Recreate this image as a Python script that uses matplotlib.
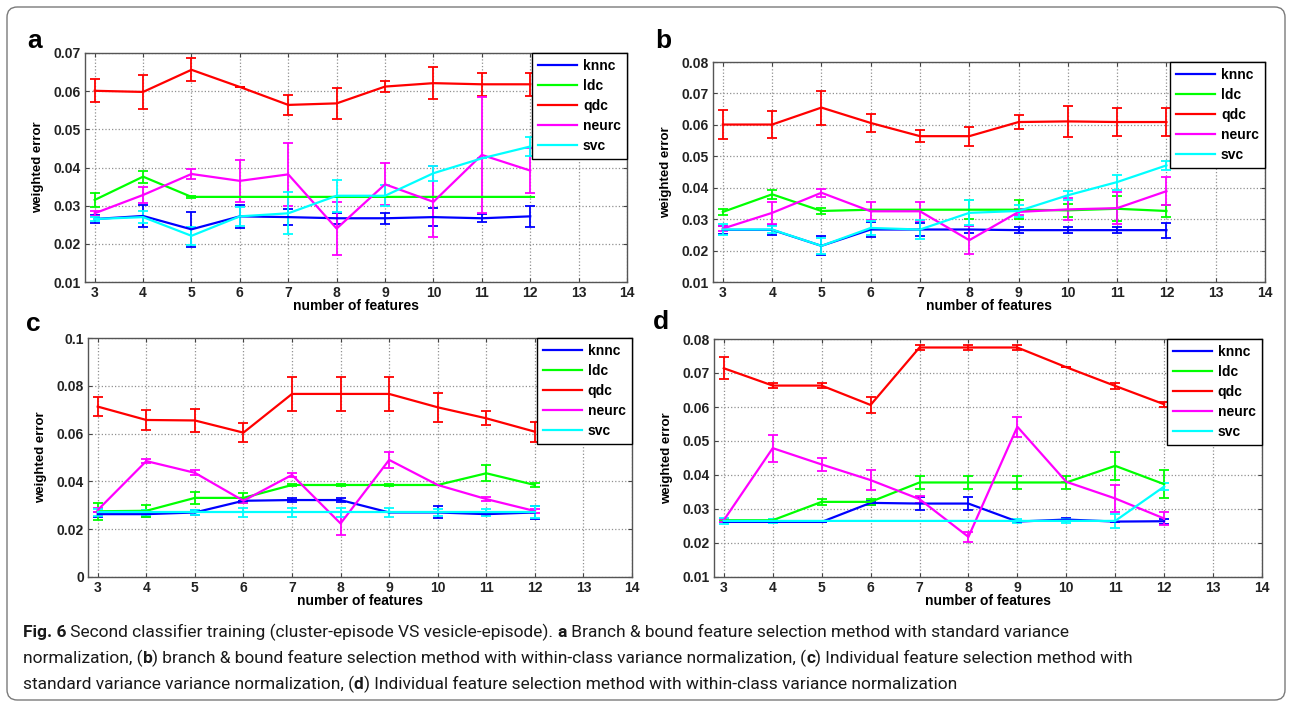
import matplotlib
matplotlib.use("Agg")
import matplotlib.pyplot as plt
from matplotlib.patches import FancyBboxPatch
from matplotlib.lines import Line2D
from matplotlib import font_manager

# data
features = [3, 4, 5, 6, 7, 8, 9, 10, 11, 12]
names = ['knnc', 'ldc', 'qdc', 'neurc', 'svc']
colors = ['#0000ff', '#00ff00', '#ff0000', '#ff00ff', '#00ffff']

# panel a
knnc_a = [0.0265, 0.0273, 0.0238, 0.0272, 0.0270, 0.0267, 0.0267, 0.0270, 0.0267, 0.0272]
knnc_a_err = [0.0010, 0.0030, 0.0046, 0.0030, 0.0020, 0.0015, 0.0014, 0.0023, 0.0010, 0.0028]
ldc_a = [0.0315, 0.0376, 0.0323, 0.0323, 0.0323, 0.0323, 0.0323, 0.0323, 0.0323, 0.0323]
ldc_a_err = [0.0018, 0.0016, 0.0003, 0.0, 0.0, 0.0, 0.0, 0.0, 0.0, 0.0]
qdc_a = [0.0601, 0.0598, 0.0656, 0.0611, 0.0564, 0.0568, 0.0612, 0.0621, 0.0618, 0.0618]
qdc_a_err = [0.0030, 0.0044, 0.0030, 0.0, 0.0026, 0.0040, 0.0014, 0.0042, 0.0030, 0.0030]
neurc_a = [0.0280, 0.0328, 0.0383, 0.0365, 0.0382, 0.0240, 0.0356, 0.0310, 0.0433, 0.0392]
neurc_a_err = [0.0007, 0.0022, 0.0013, 0.0055, 0.0083, 0.0069, 0.0055, 0.0093, 0.0153, 0.0060]
svc_a = [0.0265, 0.0270, 0.0221, 0.0272, 0.0280, 0.0326, 0.0326, 0.0385, 0.0424, 0.0455]
svc_a_err = [0.0005, 0.0015, 0.0023, 0.0025, 0.0055, 0.0042, 0.0028, 0.0020, 0.0, 0.0025]

# panel b
knnc_b = [0.0266, 0.0266, 0.0215, 0.0267, 0.0267, 0.0267, 0.0265, 0.0265, 0.0265, 0.0265]
knnc_b_err = [0.0012, 0.0015, 0.0030, 0.0024, 0.0020, 0.0010, 0.0010, 0.0010, 0.0010, 0.0024]
ldc_b = [0.0323, 0.0379, 0.0326, 0.0330, 0.0330, 0.0330, 0.0330, 0.0328, 0.0333, 0.0326]
ldc_b_err = [0.0010, 0.0014, 0.0010, 0.0, 0.0, 0.0030, 0.0030, 0.0020, 0.0040, 0.0020]
qdc_b = [0.0601, 0.0601, 0.0655, 0.0606, 0.0564, 0.0564, 0.0609, 0.0611, 0.0609, 0.0609]
qdc_b_err = [0.0045, 0.0043, 0.0054, 0.0030, 0.0020, 0.0030, 0.0022, 0.0050, 0.0045, 0.0045]
neurc_b = [0.0270, 0.0320, 0.0384, 0.0325, 0.0325, 0.0233, 0.0323, 0.0331, 0.0335, 0.0389]
neurc_b_err = [0.0008, 0.0035, 0.0013, 0.0028, 0.0030, 0.0045, 0.0010, 0.0035, 0.0050, 0.0045]
svc_b = [0.0267, 0.0267, 0.0215, 0.0272, 0.0267, 0.0320, 0.0326, 0.0376, 0.0418, 0.0471]
svc_b_err = [0.0018, 0.0010, 0.0025, 0.0023, 0.0030, 0.0040, 0.0020, 0.0015, 0.0024, 0.0014]

# panel c
knnc_c = [0.0263, 0.0263, 0.0270, 0.0319, 0.0322, 0.0322, 0.0270, 0.0270, 0.0263, 0.0270]
knnc_c_err = [0.0010, 0.0010, 0.0010, 0.0, 0.0010, 0.0010, 0.0, 0.0025, 0.0, 0.0026]
ldc_c = [0.0275, 0.0277, 0.0331, 0.0331, 0.0385, 0.0385, 0.0385, 0.0385, 0.0434, 0.0385]
ldc_c_err = [0.0035, 0.0025, 0.0024, 0.0020, 0.0005, 0.0005, 0.0005, 0.0, 0.0034, 0.0008]
qdc_c = [0.0713, 0.0657, 0.0655, 0.0604, 0.0766, 0.0766, 0.0766, 0.0710, 0.0664, 0.0608]
qdc_c_err = [0.0040, 0.0043, 0.0050, 0.0040, 0.0070, 0.0070, 0.0070, 0.0060, 0.0030, 0.0042]
neurc_c = [0.0280, 0.0485, 0.0436, 0.0319, 0.0427, 0.0224, 0.0490, 0.0385, 0.0326, 0.0276]
neurc_c_err = [0.0010, 0.0010, 0.0010, 0.0010, 0.0010, 0.0047, 0.0033, 0.0, 0.0010, 0.0010]
svc_c = [0.0270, 0.0270, 0.0270, 0.0270, 0.0270, 0.0270, 0.0270, 0.0270, 0.0270, 0.0270]
svc_c_err = [0.0015, 0.0010, 0.0010, 0.0020, 0.0020, 0.0020, 0.0020, 0.0015, 0.0015, 0.0025]

# panel d
knnc_d = [0.0262, 0.0262, 0.0262, 0.0318, 0.0316, 0.0316, 0.0263, 0.0269, 0.0263, 0.0264]
knnc_d_err = [0.0, 0.0, 0.0, 0.0007, 0.0020, 0.0020, 0.0, 0.0005, 0.0, 0.0008]
ldc_d = [0.0267, 0.0267, 0.0321, 0.0321, 0.0378, 0.0378, 0.0378, 0.0378, 0.0427, 0.0373]
ldc_d_err = [0.0003, 0.0005, 0.0008, 0.0008, 0.0020, 0.0020, 0.0020, 0.0018, 0.0042, 0.0041]
qdc_d = [0.0714, 0.0663, 0.0663, 0.0606, 0.0775, 0.0775, 0.0775, 0.0717, 0.0662, 0.0608]
qdc_d_err = [0.0033, 0.0008, 0.0008, 0.0023, 0.0008, 0.0008, 0.0008, 0.0, 0.0008, 0.0008]
neurc_d = [0.0267, 0.0479, 0.0431, 0.0385, 0.0329, 0.0218, 0.0542, 0.0380, 0.0331, 0.0272]
neurc_d_err = [0.0005, 0.0040, 0.0020, 0.0030, 0.0010, 0.0015, 0.0030, 0.0, 0.0040, 0.0020]
svc_d = [0.0265, 0.0265, 0.0265, 0.0265, 0.0265, 0.0265, 0.0265, 0.0265, 0.0265, 0.0366]
svc_d_err = [0.0008, 0.0005, 0.0, 0.0, 0.0, 0.0, 0.0005, 0.0005, 0.0020, 0.0010]

xticks = [3, 4, 5, 6, 7, 8, 9, 10, 11, 12, 13, 14]
yticks_a = [0.01, 0.02, 0.03, 0.04, 0.05, 0.06, 0.07]
ylabels_a = ['0.01', '0.02', '0.03', '0.04', '0.05', '0.06', '0.07']
yticks_b = [0.01, 0.02, 0.03, 0.04, 0.05, 0.06, 0.07, 0.08]
ylabels_b = ['0.01', '0.02', '0.03', '0.04', '0.05', '0.06', '0.07', '0.08']
yticks_c = [0, 0.02, 0.04, 0.06, 0.08, 0.1]
ylabels_c = ['0', '0.02', '0.04', '0.06', '0.08', '0.1']

plt.rcParams['font.family'] = ['Liberation Sans', 'DejaVu Sans']

W, H = 1292, 708
fig = plt.figure(figsize=(W / 100, H / 100), dpi=100)

# outer frame of the figure
frame = FancyBboxPatch((7 / W, 1 - 700 / H), 1278 / W, 693 / H,
                       boxstyle="round,pad=0,rounding_size=0.008",
                       mutation_aspect=W / H, transform=fig.transFigure,
                       facecolor='none', edgecolor='#7a7a7a', linewidth=1.0)
fig.patches.append(frame)


def add_panel(box, letter, letter_xy, data, yticks, ylabels):
    l, r, t, b = box
    ax = fig.add_axes([l / W, 1 - b / H, (r - l) / W, (b - t) / H])
    for (m, e), c in zip(data, colors):
        ax.errorbar(features, m, yerr=e, color=c, linewidth=1.6,
                    elinewidth=1.3, capsize=3.5, capthick=1.3)
    ax.set_xlim(2.8, 14)
    ax.set_ylim(yticks[0], yticks[-1])
    ax.set_xticks(xticks)
    ax.set_yticks(yticks)
    ax.set_yticklabels(ylabels)
    ax.grid(True, linestyle=':', color='#909090', linewidth=0.9)
    ax.tick_params(direction='in', length=3, top=True, right=True,
                   labelsize=10, color='#444444', pad=3)
    for lab in ax.get_xticklabels() + ax.get_yticklabels():
        lab.set_fontweight('bold')
        lab.set_color('#222222')
    for s in ax.spines.values():
        s.set_color('#555555')
        s.set_linewidth(1.0)
    ax.set_xlabel('number of features', fontsize=10, fontweight='bold', labelpad=-1)
    ax.set_ylabel('weighted error', fontsize=9.5, fontweight='bold', labelpad=7)
    handles = [Line2D([], [], color=c, linewidth=1.6) for c in colors]
    leg = ax.legend(handles, names, loc='upper right', borderaxespad=0, fancybox=False,
                    edgecolor='black', framealpha=1, handlelength=2.8,
                    handletextpad=0.4, labelspacing=0.42, borderpad=0.45,
                    prop={'size': 10, 'weight': 'bold'})
    leg.get_frame().set_linewidth(1.0)
    fig.text(letter_xy[0] / W, 1 - letter_xy[1] / H, letter, fontsize=19,
             fontweight='bold', va='baseline')
    return ax


add_panel((85, 627, 53, 282), 'a', (27, 48),
          [(knnc_a, knnc_a_err), (ldc_a, ldc_a_err), (qdc_a, qdc_a_err),
           (neurc_a, neurc_a_err), (svc_a, svc_a_err)], yticks_a, ylabels_a)
add_panel((713, 1265, 62, 282), 'b', (655, 48),
          [(knnc_b, knnc_b_err), (ldc_b, ldc_b_err), (qdc_b, qdc_b_err),
           (neurc_b, neurc_b_err), (svc_b, svc_b_err)], yticks_b, ylabels_b)
add_panel((88, 632, 338, 577), 'c', (26, 331),
          [(knnc_c, knnc_c_err), (ldc_c, ldc_c_err), (qdc_c, qdc_c_err),
           (neurc_c, neurc_c_err), (svc_c, svc_c_err)], yticks_c, ylabels_c)
add_panel((714, 1262, 339, 577), 'd', (653, 329),
          [(knnc_d, knnc_d_err), (ldc_d, ldc_d_err), (qdc_d, qdc_d_err),
           (neurc_d, neurc_d_err), (svc_d, svc_d_err)], yticks_b, ylabels_b)

# caption, with bold pieces
cap_lines = [
    [('Fig. 6', True), (' Second classifier training (cluster-episode VS vesicle-episode). ', False),
     ('a', True), (' Branch & bound feature selection method with standard variance', False)],
    [('normalization, (', False), ('b', True),
     (') branch & bound feature selection method with within-class variance normalization, (', False),
     ('c', True), (') Individual feature selection method with', False)],
    [('standard variance variance normalization, (', False), ('d', True),
     (') Individual feature selection method with within-class variance normalization', False)],
]
cap_y = [637, 663, 689]
avail = {f.name for f in font_manager.fontManager.ttflist}
cap_font = 'Liberation Sans Narrow' if 'Liberation Sans Narrow' in avail else 'Roboto'
cap_size = 12.5

renderer = fig.canvas.get_renderer()


def text_width(s, bold):
    # width including trailing spaces: measure with a sentinel
    t1 = fig.text(0, 0, s + 'x', family=cap_font, fontsize=cap_size,
                  fontweight='bold' if bold else 'normal')
    t2 = fig.text(0, 0, 'x', family=cap_font, fontsize=cap_size,
                  fontweight='bold' if bold else 'normal')
    w = t1.get_window_extent(renderer).width - t2.get_window_extent(renderer).width
    t1.remove()
    t2.remove()
    return w


for line, y in zip(cap_lines, cap_y):
    x = 23
    for s, bold in line:
        fig.text(x / W, 1 - y / H, s, family=cap_font, fontsize=cap_size,
                 fontweight='bold' if bold else 'normal', va='baseline',
                 color='#1a1a1a')
        x += text_width(s, bold)

fig.savefig('out.png', dpi=100)
